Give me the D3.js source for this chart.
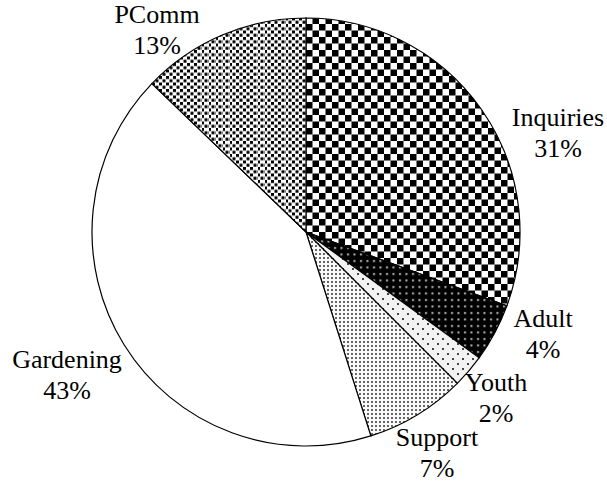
<!DOCTYPE html>
<html>
  <head>
    <meta charset="utf-8">
    <script src="https://cdn.jsdelivr.net/npm/d3@7"></script>
    <style>
        body { margin: 0; background: #fff; }
        text { font-family: "Liberation Serif", "Times New Roman", serif; font-size: 26px; fill: #000; }
    </style>
  </head>

  <body>
    <div id="my_chart"></div>
  </body>

  <script>

    // slice data, clockwise from 12 o'clock
    let categories = ["Inquiries", "Adult", "Youth", "Support", "Gardening", "PComm"];
    let values     = [30.6, 4.4, 2.5, 7.6, 42.1, 12.8];
    let pctLabels  = ["31%", "4%", "2%", "7%", "43%", "13%"];

    let width = 607, height = 482;
    let cx = 306, cy = 232, radius = 214;

    // where each label sits (center of the two lines)
    let labelPos = {
        "Inquiries": [558, 130],
        "Adult":     [543, 331],
        "Youth":     [496, 395],
        "Support":   [437, 450],
        "Gardening": [67, 372],
        "PComm":     [157, 27]
    };

    let svg = d3.select("#my_chart")
                .append("svg")
                    .attr("width", width)
                    .attr("height", height);

    let defs = svg.append("defs");

    // checkerboard
    let p1 = defs.append("pattern").attr("id", "pat-Inquiries")
        .attr("patternUnits", "userSpaceOnUse").attr("width", 13).attr("height", 13);
    p1.append("rect").attr("width", 13).attr("height", 13).attr("fill", "#fff");
    p1.append("rect").attr("width", 6.5).attr("height", 6.5).attr("fill", "#000");
    p1.append("rect").attr("x", 6.5).attr("y", 6.5).attr("width", 6.5).attr("height", 6.5).attr("fill", "#000");

    // black with light dots
    let p2 = defs.append("pattern").attr("id", "pat-Adult")
        .attr("patternUnits", "userSpaceOnUse").attr("width", 6.5).attr("height", 6.5);
    p2.append("rect").attr("width", 6.5).attr("height", 6.5).attr("fill", "#000");
    p2.append("rect").attr("x", 2).attr("y", 2).attr("width", 2).attr("height", 2).attr("fill", "#bbb");

    // light gray, sparse dark dots
    let p3 = defs.append("pattern").attr("id", "pat-Youth")
        .attr("patternUnits", "userSpaceOnUse").attr("width", 10).attr("height", 10);
    p3.append("rect").attr("width", 10).attr("height", 10).attr("fill", "#f2f2f2");
    p3.append("rect").attr("x", 1).attr("y", 1).attr("width", 2).attr("height", 2).attr("fill", "#444");
    p3.append("rect").attr("x", 6).attr("y", 6).attr("width", 2).attr("height", 2).attr("fill", "#444");

    // dense small dots
    let p4 = defs.append("pattern").attr("id", "pat-Support")
        .attr("patternUnits", "userSpaceOnUse").attr("width", 4).attr("height", 4);
    p4.append("rect").attr("width", 4).attr("height", 4).attr("fill", "#fafafa");
    p4.append("rect").attr("x", 1).attr("y", 1).attr("width", 2).attr("height", 2).attr("fill", "#666");

    // white, staggered black squares
    let p6 = defs.append("pattern").attr("id", "pat-PComm")
        .attr("patternUnits", "userSpaceOnUse").attr("width", 7).attr("height", 6.5);
    p6.append("rect").attr("width", 7).attr("height", 6.5).attr("fill", "#fff");
    p6.append("rect").attr("width", 3).attr("height", 3).attr("fill", "#000");
    p6.append("rect").attr("x", 3.5).attr("y", 3.25).attr("width", 3).attr("height", 3).attr("fill", "#000");

    let fills = {
        "Inquiries": "url(#pat-Inquiries)",
        "Adult": "url(#pat-Adult)",
        "Youth": "url(#pat-Youth)",
        "Support": "url(#pat-Support)",
        "Gardening": "#fff",
        "PComm": "url(#pat-PComm)"
    };

    let data = categories.map(function(c, i) {
        return { name: c, value: values[i], pct: pctLabels[i] };
    });

    let pie = d3.pie()
                .sort(null)
                .value(function(d) { return d.value; });

    let arc = d3.arc()
                .innerRadius(0)
                .outerRadius(radius);

    let g = svg.append("g")
               .attr("transform", "translate(" + cx + "," + cy + ")");

    g.selectAll("path")
     .data(pie(data))
     .enter()
     .append("path")
        .attr("d", arc)
        .attr("fill", function(d) { return fills[d.data.name]; })
        .attr("stroke", "#000")
        .attr("stroke-width", 1.2);

    let labels = svg.append("g")
                    .selectAll("text")
                    .data(data)
                    .enter()
                    .append("text")
                        .attr("text-anchor", "middle")
                        .attr("x", function(d) { return labelPos[d.name][0]; })
                        .attr("y", function(d) { return labelPos[d.name][1]; });

    labels.append("tspan")
          .attr("x", function(d) { return labelPos[d.name][0]; })
          .attr("dy", "-0.15em")
          .text(function(d) { return d.name; });

    labels.append("tspan")
          .attr("x", function(d) { return labelPos[d.name][0]; })
          .attr("dy", "1.2em")
          .text(function(d) { return d.pct; });

  </script>

</html>
